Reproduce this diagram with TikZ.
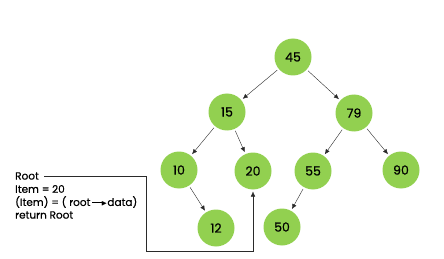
\documentclass[tikz,border=0pt]{standalone}
\usepackage{amssymb}
\usepackage{fontspec}
\setmainfont{Poppins}[FakeBold=0.6]
\usetikzlibrary{arrows.meta,positioning}
\definecolor{LeafGreen}{HTML}{92D050}
\definecolor{EdgeGray}{HTML}{2A2A2A}

\begin{document}
\begin{tikzpicture}[x=1pt,y=-1pt,
  tnode/.style={circle,fill=LeafGreen,minimum size=37pt,inner sep=0pt,outer sep=2pt,
    font=\fontsize{12.5}{13}\selectfont},
  edge/.style={-{Latex[length=5pt,width=4.5pt]},EdgeGray,thin},
  codeline/.style={anchor=west,inner sep=0pt,font=\fontsize{10.5}{12}\selectfont}]
  \useasboundingbox (0,0) rectangle (444,259);
  % tree
  \node[tnode] (n45) at (293,57) {45};
  \node[tnode] (n15) at (227,112) {15};
  \node[tnode] (n79) at (354,113) {79};
  \node[tnode] (n10) at (179,170) {10};
  \node[tnode] (n20) at (253,171) {20};
  \node[tnode] (n55) at (313,171) {55};
  \node[tnode] (n90) at (401,170) {90};
  \node[tnode] (n12) at (216,228) {12};
  \node[tnode] (n50) at (282,227) {50};
  \draw[edge] (n45) -- (n15);
  \draw[edge] (n45) -- (n79);
  \draw[edge] (n15) -- (n10);
  \draw[edge] (n15) -- (n20);
  \draw[edge] (n79) -- (n55);
  \draw[edge] (n79) -- (n90);
  \draw[edge] (n10) -- (n12);
  \draw[edge] (n55) -- (n50);
  % search steps
  \node[codeline] (lroot) at (15,176) {Root};
  \node[codeline] (litem) at (15,189) {Item = 20};
  \node[codeline] (lcmp) at (15,202)
    {(Item) = ( root\,\rule[3pt]{11pt}{0.7pt}\kern-2pt{\scriptsize$\blacktriangleright$}data)};
  \node[codeline] (lret) at (15,215) {return Root};
  \coordinate (bend) at (146,251);
  \draw[edge] ([xshift=5pt]lroot.east) -| (bend) -| (n20.south);
\end{tikzpicture}
\end{document}
